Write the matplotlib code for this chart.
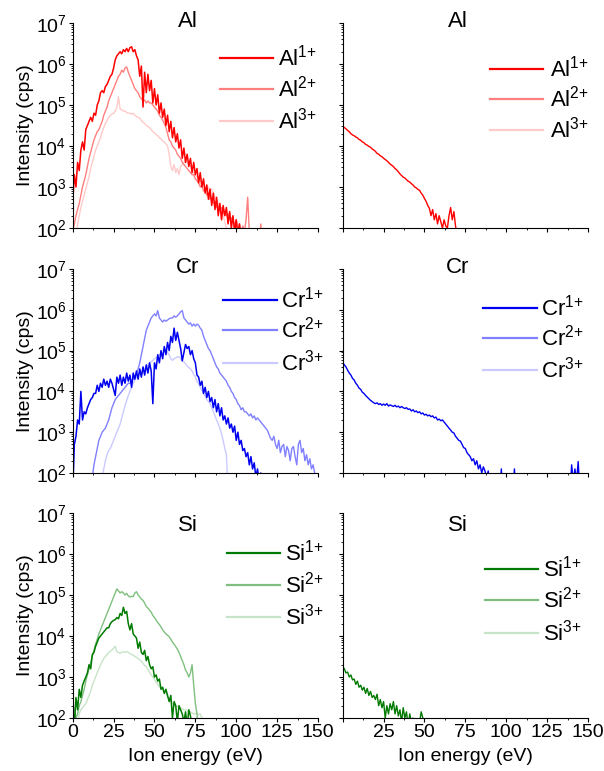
import numpy as np
import matplotlib
matplotlib.use("Agg")
import matplotlib.pyplot as plt
from matplotlib.lines import Line2D
from matplotlib.ticker import FixedLocator, LogLocator, NullFormatter, FixedFormatter

plt.rcParams['font.family'] = ['Liberation Sans', 'DejaVu Sans']
plt.rcParams['mathtext.fontset'] = 'custom'
plt.rcParams['mathtext.rm'] = 'Liberation Sans'
plt.rcParams['mathtext.it'] = 'Liberation Sans:italic'
plt.rcParams['mathtext.bf'] = 'Liberation Sans:bold'

# ---------------- data (log10 of intensity in cps, sampled every 1 eV from a start energy) -------------
al1_start = 0
al1_log = [2.6,3.3,3.0,3.6,3.4,3.9,4.1,3.9,4.4,4.5,4.6,4.7,4.6,4.8,4.75,5.0,5.1,5.3,5.35,5.3,
           5.45,5.5,5.6,5.7,5.75,5.9,6.1,6.2,6.25,6.3,6.25,6.35,6.3,6.38,6.3,6.4,6.42,6.3,6.35,6.2,
           6.1,5.7,5.95,4.95,5.8,5.3,5.75,5.35,5.6,5.05,5.4,5.0,5.25,4.8,5.05,4.7,4.9,4.5,4.75,4.35,
           4.6,4.2,4.45,4.1,4.3,3.95,4.15,3.7,3.95,3.6,3.8,3.5,3.7,3.35,3.6,3.3,3.45,3.1,3.35,3.0,
           3.2,2.85,3.05,2.7,2.95,2.55,2.85,2.45,2.75,2.3,2.6,2.2,2.55,2.3,2.5,2.1,2.4,2.0,2.3,1.9,
           2.2,1.8,2.1,1.5]
al2_start = 0
al2_log = [1.9,2.1,2.3,2.45,2.6,2.8,3.0,3.15,3.3,3.5,3.7,3.85,4.0,4.15,4.25,4.35,4.4,4.5,4.6,4.75,
           4.85,4.95,5.1,5.2,5.3,5.4,5.5,5.6,5.7,5.75,5.85,5.8,5.9,5.93,5.8,5.7,5.6,5.5,5.4,5.35,
           5.3,5.2,5.15,5.1,5.12,5.05,5.1,5.05,5.05,5.0,4.95,4.9,4.85,4.75,4.7,4.63,4.55,4.45,4.3,4.15,
           4.1,4.0,3.95,3.9,3.8,3.75,3.7,3.6,3.55,3.5,3.45,3.4,3.35,3.3,3.3,3.2,3.15,3.1,3.0,3.05,
           2.9,2.95,2.8,2.85,2.7,2.75,2.6,2.65,2.5,2.55,2.45,2.5,2.35,2.4,2.3,2.35,2.2,2.25,2.15,2.1,
           2.2,2.0,2.1,1.9,2.05,1.9,2.2,2.75,1.9,1.5,1.5,1.5,1.5,1.5,1.5,2.1,1.5]
al3_start = 0
al3_log = [1.5,1.5,1.8,2.1,2.3,2.5,2.65,2.8,2.95,3.1,3.25,3.45,3.6,3.75,3.9,4.0,4.1,4.2,4.35,4.45,
           4.55,4.62,4.7,4.75,4.78,4.8,4.85,4.95,5.2,4.9,4.88,4.85,4.85,4.82,4.8,4.8,4.78,4.8,4.75,4.72,
           4.7,4.68,4.62,4.58,4.55,4.5,4.48,4.45,4.4,4.35,4.32,4.28,4.25,4.2,4.18,4.12,4.1,4.05,4.0,3.8,
           3.5,3.4,3.55,3.35,3.45,3.3,3.5,3.55,3.6,3.65,3.6,3.55,3.5,3.4,3.35,3.3,3.25,3.2,3.15,3.1,
           3.05,3.0,2.95,3.0,2.9,2.95,2.85,2.75,2.7,2.6,2.5,2.4,2.3,2.15,2.0,1.5]
al1r_start = 0
al1r_log = [4.49,4.45,4.42,4.38,4.35,4.3,4.27,4.25,4.22,4.2,4.16,4.14,4.1,4.08,4.04,4.02,3.99,3.97,3.93,3.9,
            3.87,3.82,3.8,3.76,3.74,3.7,3.67,3.64,3.6,3.56,3.53,3.5,3.45,3.42,3.37,3.32,3.28,3.24,3.22,3.18,
            3.14,3.12,3.08,3.05,3.0,2.98,2.94,2.92,2.85,2.8,2.72,2.65,2.55,2.48,2.3,2.45,2.2,2.35,2.1,2.3,
            2.15,2.0,2.2,2.05,2.0,2.3,2.5,2.2,2.4,2.05,1.8,1.5]

cr1_start = 0
cr1_log = [1.5,2.7,2.9,3.3,3.2,4.0,3.3,3.5,3.45,3.6,3.7,3.8,3.85,3.95,3.95,4.15,4.0,4.2,4.1,4.3,
           4.15,4.25,4.1,4.3,4.2,4.05,3.9,4.35,4.2,4.4,4.15,4.35,4.2,4.45,4.25,4.4,4.1,4.45,4.3,4.5,
           4.3,4.55,4.35,4.6,4.4,4.65,4.45,4.7,4.5,3.7,4.7,4.55,4.9,4.7,5.0,4.8,5.1,4.9,5.2,5.0,
           5.35,5.2,5.55,5.25,5.45,5.25,5.05,4.75,4.95,5.15,5.05,5.1,4.9,5.0,4.8,4.7,4.4,4.35,4.15,4.25,
           3.95,4.1,3.85,4.0,3.75,3.85,3.6,3.8,3.5,3.7,3.4,3.6,3.3,3.4,3.2,3.35,3.1,3.2,3.0,3.15,
           2.8,3.0,2.7,2.8,2.55,2.6,2.4,2.5,2.2,2.4,2.1,2.25,1.9,2.1,1.8,2.0,1.7,1.5]
cr2_start = 11
cr2_log = [1.6,1.9,2.2,2.4,2.6,2.8,2.9,3.0,3.05,3.1,3.2,3.3,3.45,3.6,3.7,3.8,3.85,3.9,3.95,4.0,
           4.05,4.1,4.15,4.2,4.2,4.25,4.3,4.35,4.45,4.55,4.7,4.9,5.1,5.3,5.5,5.6,5.7,5.8,5.85,5.9,
           5.85,5.98,5.8,5.75,5.7,5.75,5.72,5.75,5.78,5.8,5.8,5.85,5.82,5.85,5.9,5.95,5.98,5.8,5.75,5.7,
           5.65,5.68,5.6,5.65,5.6,5.65,5.62,5.55,5.5,5.35,5.25,5.15,5.05,5.0,4.9,4.8,4.7,4.6,4.55,4.45,
           4.4,4.35,4.3,4.25,4.15,4.1,4.0,3.95,3.85,3.8,3.7,3.65,3.55,3.6,3.5,3.5,3.45,3.4,3.45,3.35,
           3.4,3.3,3.35,3.3,3.25,3.2,3.15,3.1,3.05,2.95,2.85,2.8,2.9,2.7,2.6,2.8,2.5,2.65,2.7,2.4,
           2.65,2.55,2.3,2.6,2.65,2.4,2.2,2.7,2.8,2.5,2.6,2.3,2.45,2.2,2.35,2.1,2.2,2.0,1.8]
cr3_start = 17
cr3_log = [1.6,1.9,2.1,2.3,2.45,2.55,2.6,2.7,2.8,2.9,3.0,3.1,3.2,3.35,3.5,3.65,3.78,3.9,4.0,4.1,
           4.2,4.28,4.35,4.4,4.44,4.48,4.52,4.56,4.6,4.65,4.7,4.73,4.76,4.8,4.83,4.86,4.9,4.92,4.95,4.98,
           5.0,4.95,4.9,4.8,4.76,4.8,4.82,4.85,4.85,4.8,4.75,4.72,4.68,4.62,4.59,4.55,4.5,4.42,4.35,4.25,
           4.18,4.1,4.02,3.95,3.88,3.8,3.75,3.7,3.6,3.5,3.4,3.3,3.2,3.1,2.95,2.8,2.6,2.45,1.5]
cr1r_start = 0
cr1r_log = [4.71,4.65,4.6,4.52,4.45,4.4,4.32,4.28,4.2,4.15,4.08,4.05,3.98,3.95,3.9,3.86,3.82,3.78,3.75,3.72,
            3.7,3.72,3.68,3.7,3.66,3.69,3.66,3.7,3.64,3.67,3.65,3.63,3.66,3.62,3.64,3.6,3.63,3.6,3.58,3.6,
            3.56,3.57,3.52,3.55,3.5,3.52,3.48,3.5,3.45,3.47,3.42,3.44,3.4,3.42,3.38,3.4,3.35,3.37,3.3,3.32,
            3.28,3.3,3.25,3.2,3.15,3.1,3.05,3.0,2.98,2.9,2.85,2.8,2.78,2.7,2.62,2.6,2.5,2.45,2.4,2.3,
            2.35,2.2,2.3,2.1,2.2,2.0,2.15,2.05,1.9,2.05,1.5,1.5,1.5,1.5,1.5,1.5,1.5,2.1,1.5,1.5,
            1.5,1.5,1.5,1.5,1.5,2.1,1.5,1.5,1.5,1.5,1.5,1.5,1.5,1.5,1.5,1.5,1.5,1.5,1.5,1.5,
            1.5,1.5,1.5,1.5,1.5,1.5,1.5,1.5,1.5,1.5,1.5,1.5,1.5,1.5,1.5,1.5,1.5,1.5,1.5,1.5,
            2.2,1.8,2.1,1.8,2.28,1.5]

si1_start = 0
si1_log = [2.3,1.8,2.5,2.2,2.7,2.5,2.8,2.9,3.0,3.1,3.3,3.2,3.55,3.6,3.75,3.85,3.95,4.0,4.05,4.1,
           4.15,4.2,4.2,4.3,4.35,4.38,4.4,4.45,4.42,4.55,4.5,4.7,4.55,4.6,4.3,4.15,4.3,4.05,4.0,3.95,
           3.7,3.85,3.6,3.55,3.65,3.4,3.5,3.3,3.2,3.25,3.0,3.05,2.9,2.95,2.7,2.75,2.6,2.7,2.55,2.4,
           2.55,2.0,2.4,2.3,1.9,2.3,2.2,2.1,1.9,2.15,1.8,2.2,2.05,1.8,1.5]
si2_start = 0
si2_log = [2.4,2.2,2.0,2.1,2.3,2.4,2.55,2.7,2.9,3.05,3.2,3.35,3.5,3.65,3.8,3.92,4.05,4.15,4.25,4.35,
           4.45,4.55,4.65,4.75,4.85,4.95,5.05,5.15,5.1,5.05,5.08,5.05,5.0,5.04,4.98,4.95,4.97,4.96,5.05,5.08,
           5.0,4.95,4.9,4.87,4.8,4.72,4.68,4.63,4.58,4.5,4.45,4.39,4.33,4.28,4.22,4.15,4.1,4.05,4.02,3.98,
           3.92,3.85,3.8,3.74,3.68,3.6,3.5,3.4,3.3,3.17,3.1,3.0,3.1,3.3,2.8,2.36,2.1,1.5]
si3_start = 0
si3_log = [1.5,1.5,1.7,1.9,2.1,2.2,2.25,2.3,2.35,2.45,2.55,2.65,2.8,2.9,3.0,3.1,3.2,3.3,3.37,3.45,
           3.5,3.55,3.6,3.63,3.66,3.7,3.75,3.62,3.6,3.58,3.6,3.62,3.6,3.62,3.6,3.57,3.55,3.54,3.5,3.48,
           3.45,3.42,3.38,3.33,3.28,3.25,3.18,3.12,3.05,3.0,2.95,2.88,2.82,2.76,2.72,2.68,2.64,2.6,2.52,2.45,
           2.4,2.36,2.32,2.3,2.28,2.25,2.24,2.22,2.2,2.2,2.18,2.15,2.15,2.12,2.1,2.1,2.12,2.08,2.1,2.0,1.5]
si1r_start = 0
si1r_log = [3.25,3.2,3.1,3.12,3.0,3.05,2.93,2.95,2.82,2.9,2.75,2.8,2.68,2.75,2.6,2.72,2.55,2.65,2.5,2.55,
            2.45,2.58,2.3,2.45,2.25,2.4,2.0,2.3,2.1,2.35,2.2,2.4,2.1,2.3,2.05,2.2,1.9,2.25,2.0,2.15,
            1.8,2.1,1.9,2.0,1.7,1.8,1.6,1.9,2.15,2.0,1.5]

x_ticks = [0, 25, 50, 75, 100, 125, 150]
y_ticks = [1e2, 1e3, 1e4, 1e5, 1e6, 1e7]
y_ticklabels = [r'$\mathregular{10^{%d}}$' % k for k in range(2, 8)]

# ---------------- styles ----------------
colors = {
    'Al': ['#FF0000', '#FF7F7F', '#FFCACA'],
    'Cr': ['#0000F0', '#8080FF', '#CACAFF'],
    'Si': ['#007A00', '#7FBF7F', '#C8E4C8'],
}

fig = plt.figure(figsize=(6.04, 7.71), dpi=100)
W, H = 604.0, 771.0
left_x0, right_x0, ax_w = 72.7, 342.7, 245.3
rows = [(23, 228), (269, 473), (513, 718)]

def series(start, logs):
    e = start + np.arange(len(logs))
    return e, 10.0 ** np.asarray(logs)

panels = [
    ('Al', [(al1_start, al1_log), (al2_start, al2_log), (al3_start, al3_log)], [(al1r_start, al1r_log)]),
    ('Cr', [(cr1_start, cr1_log), (cr2_start, cr2_log), (cr3_start, cr3_log)], [(cr1r_start, cr1r_log)]),
    ('Si', [(si1_start, si1_log), (si2_start, si2_log), (si3_start, si3_log)], [(si1r_start, si1r_log)]),
]

# legend placement (axes fraction): (x0, x1, text_x, [y1, y2, y3])
leg_left = [(0.600, 0.817, 0.837, [0.829, 0.678, 0.522]),
            (0.613, 0.833, 0.850, [0.848, 0.701, 0.539]),
            (0.629, 0.845, 0.865, [0.805, 0.649, 0.493])]
leg_right = [(0.600, 0.817, 0.845, [0.776, 0.629, 0.478]),
             (0.572, 0.792, 0.810, [0.809, 0.662, 0.505]),
             (0.580, 0.796, 0.815, [0.727, 0.576, 0.415])]
title_y = [0.98, 0.98, 0.912]

for r, (elem, left_series, right_series) in enumerate(panels):
    top, bot = rows[r]
    for c in range(2):
        x0 = left_x0 if c == 0 else right_x0
        ax = fig.add_axes([x0 / W, 1 - bot / H, ax_w / W, (bot - top) / H])
        ax.set_yscale('log')
        ax.set_xlim(0, 150)
        ax.set_ylim(1e2, 1e7)
        for s in ('top', 'right'):
            ax.spines[s].set_visible(False)
        for s in ('left', 'bottom'):
            ax.spines[s].set_linewidth(0.8)
        cols = colors[elem]
        if c == 0:
            for k in (2, 1, 0):
                e, v = series(*left_series[k])
                ax.plot(e, v, color=cols[k], lw=1.1 if k == 0 else 1.0)
        else:
            e, v = series(*right_series[0])
            ax.plot(e, v, color=cols[0], lw=1.0)
        ax.xaxis.set_major_locator(FixedLocator(x_ticks))
        ax.xaxis.set_minor_locator(FixedLocator([12.5 + 25 * i for i in range(6)]))
        ax.yaxis.set_major_locator(FixedLocator(y_ticks))
        ax.yaxis.set_minor_locator(LogLocator(base=10, subs=np.arange(2, 10), numticks=20))
        ax.yaxis.set_minor_formatter(NullFormatter())
        ax.tick_params(axis='both', which='major', direction='out', length=3, width=0.8,
                       labelsize=14, pad=1.5)
        ax.tick_params(axis='both', which='minor', direction='out', length=1.6, width=0.6)
        if c == 0:
            ax.yaxis.set_major_formatter(FixedFormatter(y_ticklabels))
            ax.set_ylabel('Intensity (cps)', fontsize=14, labelpad=1)
        else:
            ax.yaxis.set_major_formatter(NullFormatter())
        if r == 2:
            if c == 0:
                ax.xaxis.set_major_formatter(FixedFormatter([str(t) for t in x_ticks]))
            else:
                ax.xaxis.set_major_formatter(FixedFormatter([''] + [str(t) for t in x_ticks[1:]]))
            ax.set_xlabel('Ion energy (eV)', fontsize=14, labelpad=5)
        else:
            ax.xaxis.set_major_formatter(NullFormatter())
        ax.text(0.468, title_y[r], elem, transform=ax.transAxes, ha='center', va='baseline',
                fontsize=16)
        lx0, lx1, tx, ys = (leg_left if c == 0 else leg_right)[r]
        for k in range(3):
            ln = Line2D([lx0, lx1], [ys[k], ys[k]], transform=ax.transAxes, color=cols[k],
                        lw=1.6, clip_on=False)
            ax.add_line(ln)
            ax.text(tx, ys[k] - 0.036, r'%s$^{\mathregular{%d{+}}}$' % (elem, k + 1),
                    transform=ax.transAxes, ha='left', va='baseline', fontsize=16, clip_on=False)

fig.savefig('out.png', dpi=100)
